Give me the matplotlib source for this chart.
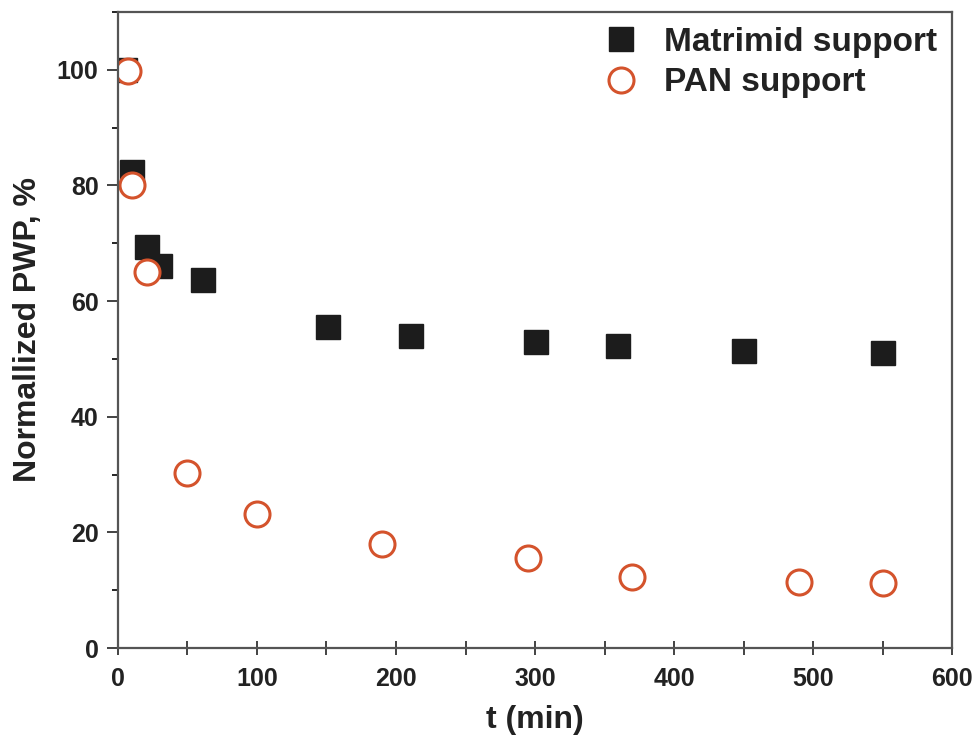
import matplotlib.pyplot as plt
from matplotlib.ticker import MultipleLocator

plt.rcParams['font.family'] = ['Liberation Sans', 'DejaVu Sans']
plt.rcParams['font.weight'] = 'bold'

# Matrimid support
t_mat = [5, 10, 21, 30, 61, 151, 211, 301, 360, 450, 550]
pwp_mat = [100, 82.3, 69.3, 66, 63.6, 55.5, 53.9, 52.9, 52.2, 51.3, 51.1]

# PAN support
t_pan = [7, 10, 21, 50, 100, 190, 295, 370, 490, 550]
pwp_pan = [99.8, 80, 65, 30.2, 23.2, 18.0, 15.6, 12.3, 11.4, 11.2]

fig = plt.figure(figsize=(9.79, 7.47), dpi=100)
ax = fig.add_axes([0.1205, 0.1325, 0.852, 0.8515])

ax.plot(t_mat, pwp_mat, 's', color='#1c1c1c', markersize=17,
        label='Matrimid support')
ax.plot(t_pan, pwp_pan, 'o', markerfacecolor='white', markeredgecolor='#d4532c',
        markeredgewidth=2.2, markersize=18, label='PAN support')

ax.set_xlim(0, 600)
ax.set_ylim(0, 110)
ax.xaxis.set_major_locator(MultipleLocator(100))
ax.xaxis.set_minor_locator(MultipleLocator(50))
ax.yaxis.set_major_locator(MultipleLocator(20))
ax.yaxis.set_minor_locator(MultipleLocator(10))

ax.tick_params(axis='x', which='both', direction='inout', length=10, width=1.2,
               labelsize=18, pad=9, colors='#222222')
ax.tick_params(axis='y', which='major', direction='out', length=8, width=1.2,
               labelsize=18, pad=6, colors='#222222')
ax.tick_params(axis='y', which='minor', direction='out', length=4, width=1.2)

for s in ax.spines.values():
    s.set_color('#555555')
    s.set_linewidth(1.6)

ax.set_xlabel('t (min)', fontsize=23, fontweight='bold', labelpad=10, color='#222222')
ax.set_ylabel('Normallized PWP, %', fontsize=23, fontweight='bold', labelpad=10,
              color='#222222')

leg = ax.legend(loc='upper right', frameon=False, fontsize=24, handletextpad=0.7,
                handlelength=1.2, borderaxespad=0.15, labelspacing=0.28,
                markerscale=1.0, borderpad=0.3)
for txt in leg.get_texts():
    txt.set_color('#222222')

fig.savefig('out.png', dpi=100)
